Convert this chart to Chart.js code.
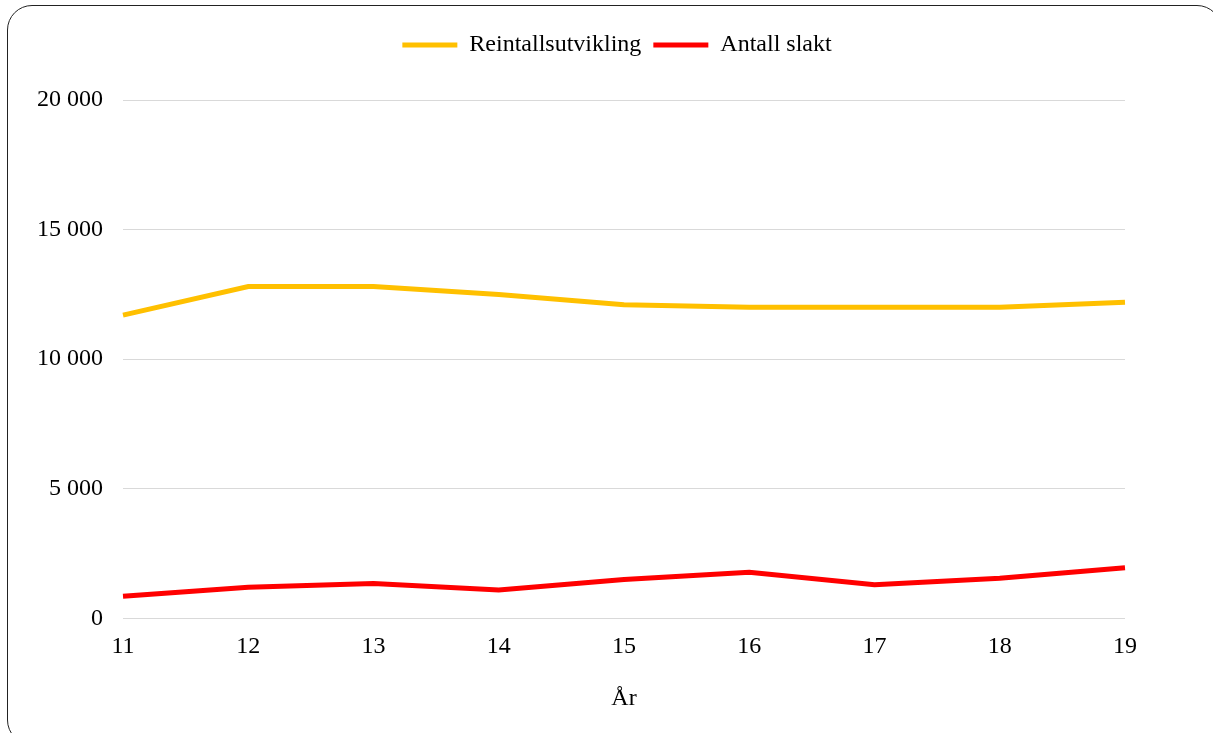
<!DOCTYPE html>
<html>
<head>
<meta charset="utf-8">
<script src="https://cdn.jsdelivr.net/npm/chart.js@4/dist/chart.umd.min.js"></script>
<style>
  html, body { margin: 0; padding: 0; background: #fff; overflow: hidden; }
  #wrap { position: relative; width: 1213px; height: 733px; }
  #frame {
    position: absolute; left: 7px; top: 5px; width: 1215px; height: 740px;
    border: 1px solid #222; border-radius: 25px; box-sizing: border-box;
    pointer-events: none;
  }
  canvas { position: absolute; left: 0; top: 0; }
</style>
</head>
<body>
<div id="wrap">
  <canvas id="myChart" width="1213" height="733"></canvas>
  <div id="frame"></div>
</div>
<script>
// år (11 = 2011 ...)
const years = ['11', '12', '13', '14', '15', '16', '17', '18', '19'];
const reintall = [11700, 12800, 12800, 12500, 12100, 12000, 12000, 12000, 12200];
const slakt = [850, 1200, 1350, 1100, 1500, 1780, 1300, 1550, 1950];
const yMax = 20000;
const yStep = 5000;

const serif = '"Liberation Serif", "Times New Roman", serif';

// 20000 -> "20 000"
function fmt(v) {
  return String(v).replace(/\B(?=(\d{3})+(?!\d))/g, ' ');
}

// extra room under the legend, and centre it over the plot a bit further right
const legendTweak = {
  id: 'legendTweak',
  beforeInit(chart) {
    const fit = chart.legend.fit;
    chart.legend.fit = function() {
      fit.call(this);
      this.height += 33;
    };
  },
  afterLayout(chart) {
    const lg = chart.legend;
    const d = 617 - (lg.left + lg.right) / 2;
    lg.left += d;
    lg.right += d;
  }
};

Chart.defaults.font.family = serif;
Chart.defaults.font.size = 24;
Chart.defaults.color = '#000';

const ctx = document.getElementById('myChart').getContext('2d');
const chart = new Chart(ctx, {
  type: 'line',
  data: {
    labels: years,
    datasets: [
      {
        label: 'Reintallsutvikling',
        data: reintall,
        borderColor: '#FFC000',
        backgroundColor: '#FFC000',
        borderWidth: 5,
        pointRadius: 0,
        tension: 0
      },
      {
        label: 'Antall slakt',
        data: slakt,
        borderColor: '#FF0000',
        backgroundColor: '#FF0000',
        borderWidth: 5,
        pointRadius: 0,
        tension: 0
      }
    ]
  },
  plugins: [legendTweak],
  options: {
    responsive: false,
    animation: false,
    layout: { padding: { left: 17, right: 88, top: 21, bottom: 20 } },
    plugins: {
      legend: {
        position: 'top',
        labels: {
          usePointStyle: true,
          pointStyle: 'line',
          pointStyleWidth: 55,
          boxHeight: 5,
          padding: 12,
          font: { size: 24 }
        }
      },
      tooltip: { enabled: false }
    },
    scales: {
      x: {
        type: 'category',
        offset: false,
        grid: { display: false },
        border: { display: false },
        ticks: { padding: 6, maxRotation: 0 },
        title: { display: true, text: 'År', padding: { top: 17, bottom: 0 } }
      },
      y: {
        min: 0,
        max: yMax,
        grid: { color: '#d9d9d9', lineWidth: 1, drawTicks: false },
        border: { display: false },
        ticks: { padding: 20, stepSize: yStep, callback: v => fmt(v) }
      }
    }
  }
});
</script>
</body>
</html>
